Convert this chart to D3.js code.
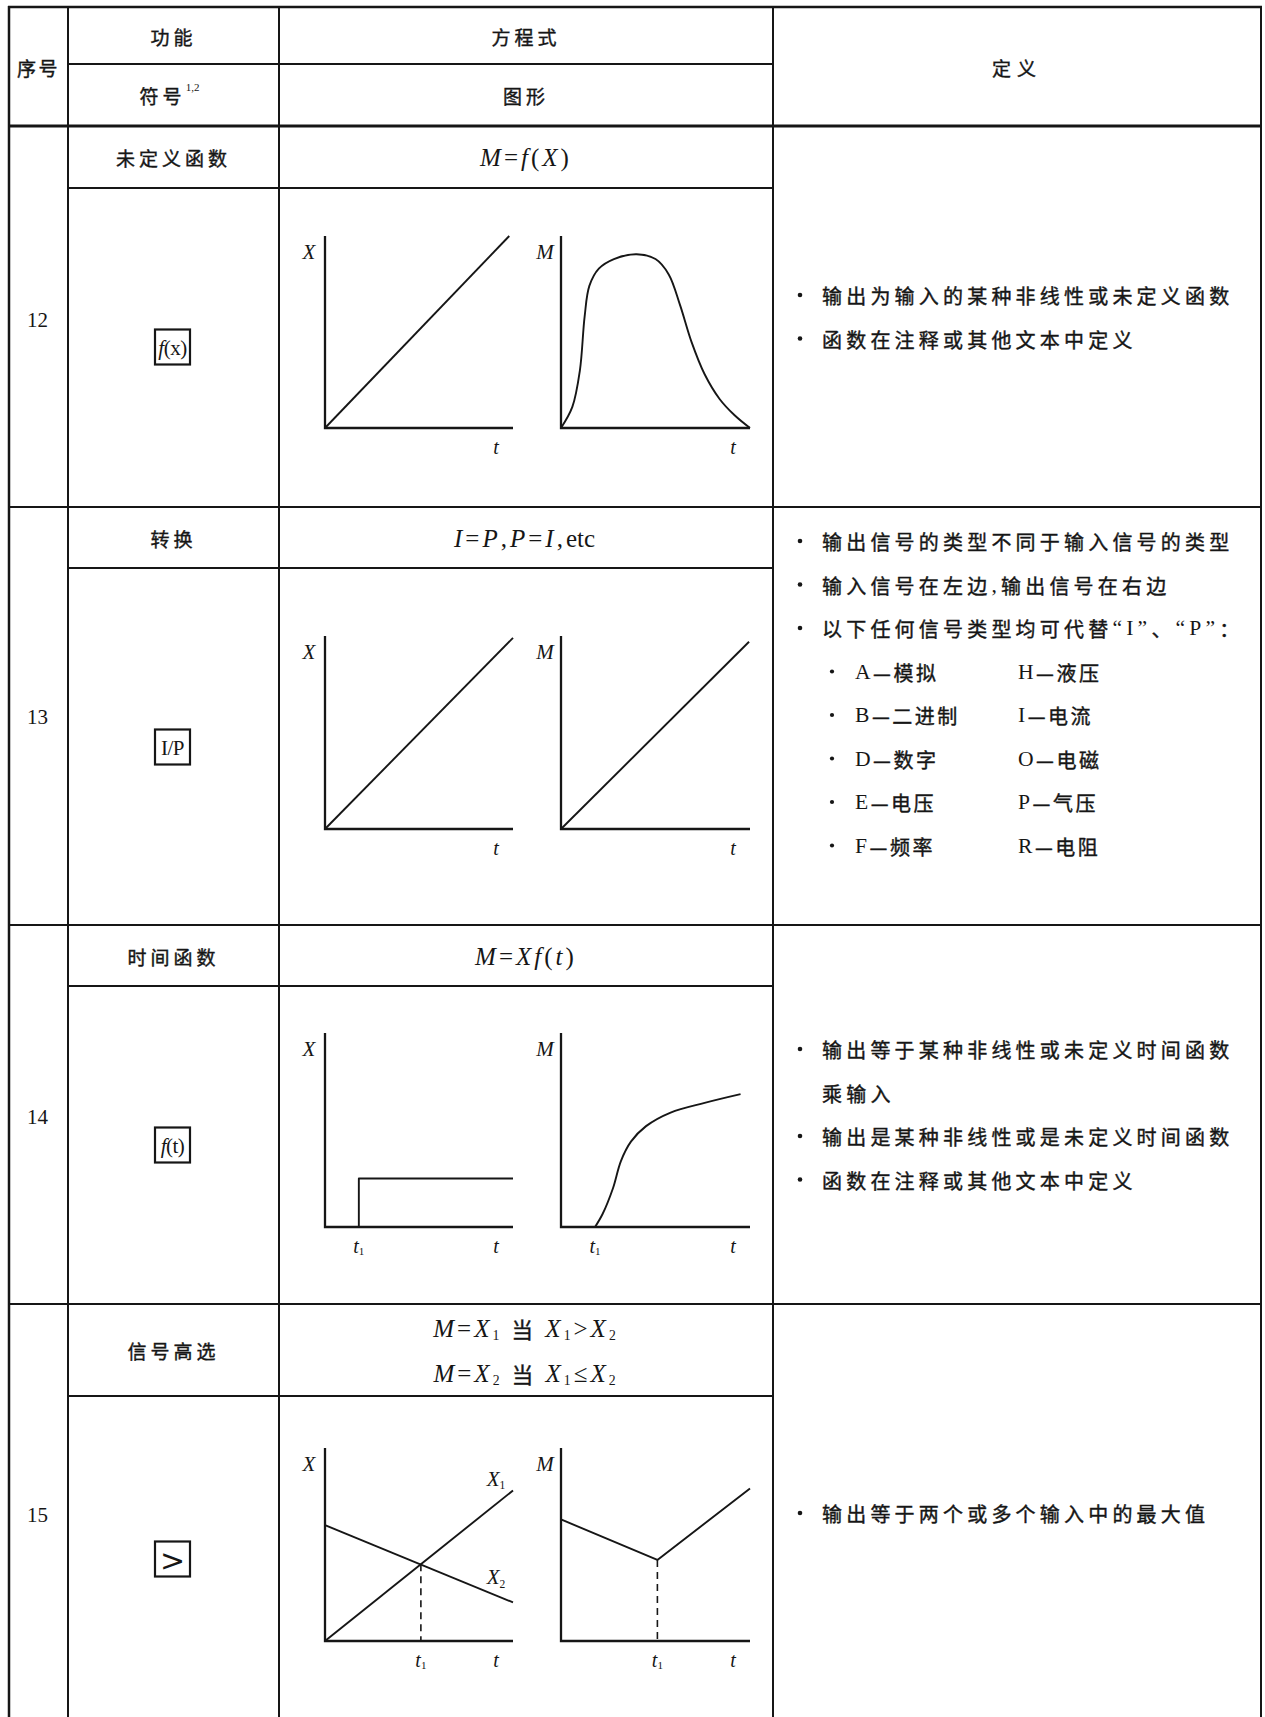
<!DOCTYPE html>
<html>
<head>
<meta charset="utf-8">
<script src="https://cdn.jsdelivr.net/npm/d3@7"></script>
<style>
  body { margin: 0; background: #fff; }
  svg { display: block; }
</style>
</head>
<body>
<script>
// ---- table content ----
var rowIds = ["12", "13", "14", "15"];
var funcNames = ["未定义函数", "转换", "时间函数", "信号高选"];
var symbols = ["*f*(x)", "I/P", "*f*(t)", ">"];
// * toggles italic, _ = subscript of next char
var equations = [
  ["*M*=*f*(*X*)"],
  ["*I*=*P*,*P*=*I*,etc"],
  ["*M*=*Xf*(*t*)"],
  ["*M*=*X*_1 当 *X*_1>*X*_2", "*M*=*X*_2 当 *X*_1≤*X*_2"]
];
var definitions = [
  [["输出为输入的某种非线性或未定义函数"], ["函数在注释或其他文本中定义"]],
  [["输出信号的类型不同于输入信号的类型"], ["输入信号在左边,输出信号在右边"], ["以下任何信号类型均可代替“I”、“P”："]],
  [["输出等于某种非线性或未定义时间函数", "乘输入"], ["输出是某种非线性或是未定义时间函数"], ["函数在注释或其他文本中定义"]],
  [["输出等于两个或多个输入中的最大值"]]
];
var signalTypesLeft = ["A—模拟", "B—二进制", "D—数字", "E—电压", "F—频率"];
var signalTypesRight = ["H—液压", "I—电流", "O—电磁", "P—气压", "R—电阻"];

// ---- curve data, [t, value] in 0..1 ----
var r12Input = [[0, 0], [0.98, 1.0]];
var r12Output = [[0, 0], [0.06, 0.11], [0.10, 0.30], [0.125, 0.58], [0.15, 0.74], [0.20, 0.83],
                 [0.28, 0.88], [0.40, 0.905], [0.50, 0.88], [0.57, 0.80], [0.63, 0.64],
                 [0.69, 0.45], [0.76, 0.28], [0.84, 0.15], [0.92, 0.065], [1.0, 0]];
var r13Input = [[0, 0], [1.0, 0.99]];
var r13Output = [[0, 0], [0.995, 0.97]];
var r14T1 = 0.18;
var r14Input = [[0, 0], [0.18, 0], [0.18, 0.25], [1.0, 0.25]];
var r14Output = [[0.18, 0], [0.22, 0.067], [0.275, 0.20], [0.317, 0.34], [0.37, 0.44],
                 [0.45, 0.52], [0.58, 0.59], [0.76, 0.64], [0.95, 0.685]];
var r15T1 = 0.51;
var r15X1 = [[0, 0], [1.0, 0.78]];
var r15X2 = [[0, 0.60], [1.0, 0.20]];
var r15Output = [[0, 0.63], [0.51, 0.42], [1.0, 0.79]];

// ---- layout ----
var W = 1265, H = 1717;
var colX = [9, 68, 279, 773, 1261];
var headTop = 7, headMid = 64, headBot = 126;
var rowTop = [126, 507, 925, 1304];
var rowMid = [188, 568, 986, 1396];
var rowBot = [507, 925, 1304, H + 5];
var idY = [320, 717, 1117, 1515];
var symCenterY = [347, 747, 1145, 1559];
var chartBase = [428, 829, 1227, 1641];
var chartH = [192, 193, 194, 193];
var defFirstY = [295, 541, 1049, 1513];
var lineStep = 43.5;

var ink = "#161616";
var cjk = "'Noto Sans CJK SC', sans-serif";
var serif = "'Liberation Serif', 'DejaVu Serif', serif";
var cjkStroke = 0.4;

var svg = d3.select("body").append("svg")
    .attr("width", W)
    .attr("height", H);

svg.append("rect").attr("width", W).attr("height", H).attr("fill", "#fff");

//Thicken CJK strokes a little, the scan is heavier than Noto Regular
function cjkStyle(span) {
    span.attr("font-family", cjk)
        .attr("stroke", ink)
        .attr("stroke-width", cjkStroke);
}

//Rich text: * italic toggle, _x subscript
function richText(parent, str, x, y, size, spacing) {
    var t = parent.append("text")
        .attr("x", x).attr("y", y)
        .attr("text-anchor", "middle")
        .attr("dominant-baseline", "central")
        .attr("fill", ink)
        .attr("font-size", size)
        .style("letter-spacing", spacing + "px");
    var italic = false, pendingDy = 0;
    for (var i = 0; i < str.length; i++) {
        var c = str[i];
        if (c === "*") { italic = !italic; continue; }
        var span = t.append("tspan");
        if (c === "_") {
            c = str[++i];
            span.attr("font-size", size * 0.55).attr("dy", size * 0.3);
            pendingDy = -size * 0.3;
            span.attr("font-family", serif).text(c);
            continue;
        }
        if (pendingDy) { span.attr("dy", pendingDy); pendingDy = 0; }
        var isCjk = /[\u3000-\u9fff\uff00-\uffef]/.test(c);
        if (isCjk) {
            cjkStyle(span);
            span.attr("font-size", size * 0.86);
        } else {
            span.attr("font-family", serif)
                .attr("font-style", italic ? "italic" : "normal");
            // plain words like "etc" stay tight
            if (!italic && /[a-z]/.test(c) && /[a-z]/.test(str[i + 1] || "")) span.style("letter-spacing", "0px");
        }
        span.text(c === " " ? "\u00a0" : c);
    }
    return t;
}

//Chinese text, latin letters and quotes set in serif
function cjkText(parent, str, x, y, size, spacing, anchor) {
    var t = parent.append("text")
        .attr("x", x).attr("y", y)
        .attr("text-anchor", anchor || "middle")
        .attr("dominant-baseline", "central")
        .attr("fill", ink)
        .attr("font-size", size)
        .style("letter-spacing", spacing + "px");
    var runs = str.match(/[A-Za-z0-9“”,]+|[^A-Za-z0-9“”,]+/g);
    runs.forEach(function(r) {
        var latin = /^[A-Za-z0-9“”,]/.test(r);
        var span = t.append("tspan").text(r);
        if (latin) {
            span.attr("font-family", serif).attr("font-size", size * 1.08);
        } else {
            cjkStyle(span);
        }
    });
    return t;
}

//Table lines
var grid = svg.append("g").attr("stroke", ink).attr("fill", "none");
function hline(x1, x2, y, w) {
    grid.append("line").attr("x1", x1).attr("x2", x2).attr("y1", y).attr("y2", y).attr("stroke-width", w);
}
function vline(x, y1, y2, w) {
    grid.append("line").attr("x1", x).attr("x2", x).attr("y1", y1).attr("y2", y2).attr("stroke-width", w);
}
hline(colX[0] - 1, colX[4] + 1, headTop, 2.5);
hline(colX[1], colX[3], headMid, 2);
hline(colX[0] - 1, colX[4] + 1, headBot, 3);
rowIds.forEach(function(d, i) {
    hline(colX[1], colX[3], rowMid[i], 2);
    if (i < 3) hline(colX[0] - 1, colX[4] + 1, rowBot[i], 2.2);
});
colX.forEach(function(x, i) {
    vline(x, headTop - 1, H, i === 0 ? 2.5 : 2);
});

//Header
cjkText(svg, "序号", (colX[0] + colX[1]) / 2, (headTop + headBot) / 2, 19, 2.5);
cjkText(svg, "功能", (colX[1] + colX[2]) / 2, (headTop + headMid) / 2, 19, 4);
var fh = cjkText(svg, "符号", (colX[1] + colX[2]) / 2 - 4, (headMid + headBot) / 2, 19, 4);
fh.append("tspan").attr("font-family", serif).attr("font-size", 11).attr("dy", -8)
    .style("letter-spacing", "0px").text("1,2");
cjkText(svg, "方程式", (colX[2] + colX[3]) / 2, (headTop + headMid) / 2, 19, 4);
cjkText(svg, "图形", (colX[2] + colX[3]) / 2, (headMid + headBot) / 2, 19, 4);
cjkText(svg, "定义", (colX[3] + colX[4]) / 2, (headTop + headBot) / 2, 19, 6);

//Rows
rowIds.forEach(function(id, i) {
    svg.append("text")
        .attr("x", (colX[0] + colX[1]) / 2 - 1).attr("y", idY[i])
        .attr("text-anchor", "middle").attr("dominant-baseline", "central")
        .attr("font-family", serif).attr("font-size", 21).attr("fill", ink)
        .text(id);

    cjkText(svg, funcNames[i], (colX[1] + colX[2]) / 2, (rowTop[i] + rowMid[i]) / 2, 19, 4);

    var eq = equations[i];
    var eqMid = (rowTop[i] + rowMid[i]) / 2;
    eq.forEach(function(s, k) {
        var y = eqMid + (k - (eq.length - 1) / 2) * 45;
        richText(svg, s, (colX[2] + colX[3]) / 2, y, 25, 3);
    });
});

//Symbol boxes
symbols.forEach(function(s, i) {
    var cx = 172.5, cy = symCenterY[i];
    svg.append("rect")
        .attr("x", cx - 17.5).attr("y", cy - 17.5)
        .attr("width", 35).attr("height", 35)
        .attr("fill", "none").attr("stroke", ink).attr("stroke-width", 2.2);
    if (s === ">") {
        svg.append("text").attr("x", cx).attr("y", cy + 1)
            .attr("text-anchor", "middle").attr("dominant-baseline", "central")
            .attr("font-family", "'DejaVu Sans', sans-serif").attr("font-size", 30)
            .attr("fill", ink).text(">");
    } else {
        richText(svg, s, cx, cy + 1, 21, -0.5);
    }
});

//Bullets
function bullet(x, y, r) {
    svg.append("circle").attr("cx", x).attr("cy", y).attr("r", r).attr("fill", ink);
}

//Definitions
var bulletX = 800, textX = 822;
definitions.forEach(function(items, i) {
    var y = defFirstY[i];
    items.forEach(function(lines) {
        bullet(bulletX, y, 2.3);
        lines.forEach(function(line) {
            cjkText(svg, line, textX, y, 20, 4.2, "start");
            y += lineStep;
        });
    });
    if (i === 1) {
        signalTypesLeft.forEach(function(s, k) {
            bullet(832, y, 2.1);
            cjkText(svg, s, 855, y, 20, 2.5, "start");
            cjkText(svg, signalTypesRight[k], 1018, y, 20, 2.5, "start");
            y += lineStep;
        });
    }
});

//Mini charts
function chart(i, x0, w, yLabel) {
    var base = chartBase[i], h = chartH[i];
    var x = d3.scaleLinear().domain([0, 1]).range([x0, x0 + w]);
    var y = d3.scaleLinear().domain([0, 1]).range([base, base - h]);
    var g = svg.append("g");
    var line = d3.line().x(function(d) { return x(d[0]); }).y(function(d) { return y(d[1]); });
    g.append("path")
        .attr("d", line([[0, 1], [0, 0], [1, 0]]))
        .attr("fill", "none").attr("stroke", ink).attr("stroke-width", 2.3);
    g.append("text").attr("x", x0 - 16).attr("y", y(1) + 16)
        .attr("text-anchor", "middle").attr("dominant-baseline", "central")
        .attr("font-family", serif).attr("font-style", "italic").attr("font-size", 21)
        .attr("fill", ink).text(yLabel);
    g.append("text").attr("x", x(0.91)).attr("y", base + 19)
        .attr("text-anchor", "middle").attr("dominant-baseline", "central")
        .attr("font-family", serif).attr("font-style", "italic").attr("font-size", 20)
        .attr("fill", ink).text("t");
    return { g: g, x: x, y: y, line: line, base: base };
}
function curve(c, data, curveType) {
    var l = c.line.curve(curveType || d3.curveLinear);
    c.g.append("path").attr("d", l(data))
        .attr("fill", "none").attr("stroke", ink).attr("stroke-width", 1.9)
        .attr("stroke-linejoin", "round");
}
function t1Label(c, t) {
    var tx = c.g.append("text").attr("x", c.x(t)).attr("y", c.base + 19)
        .attr("text-anchor", "middle").attr("dominant-baseline", "central")
        .attr("font-family", serif).attr("font-style", "italic").attr("font-size", 20)
        .attr("fill", ink).text("t");
    tx.append("tspan").attr("font-style", "normal").attr("font-size", 11).attr("dy", 5).text("1");
}
function dashed(c, t, v) {
    c.g.append("path").attr("d", c.line.curve(d3.curveLinear)([[t, v], [t, 0]]))
        .attr("fill", "none").attr("stroke", ink).attr("stroke-width", 1.6)
        .attr("stroke-dasharray", "7,5");
}

var leftX0 = 325, leftW = 188, rightX0 = 561, rightW = 189;

// row 12
var c = chart(0, leftX0, leftW, "X");
curve(c, r12Input);
c = chart(0, rightX0, rightW, "M");
curve(c, r12Output, d3.curveCatmullRom.alpha(0.5));

// row 13
c = chart(1, leftX0, leftW, "X");
curve(c, r13Input);
c = chart(1, rightX0, rightW, "M");
curve(c, r13Output);

// row 14
c = chart(2, leftX0, leftW, "X");
curve(c, r14Input);
t1Label(c, r14T1);
c = chart(2, rightX0, rightW, "M");
curve(c, r14Output, d3.curveCatmullRom.alpha(0.5));
t1Label(c, r14T1);

// row 15
c = chart(3, leftX0, leftW, "X");
curve(c, r15X1);
curve(c, r15X2);
dashed(c, r15T1, r15X1[1][1] * r15T1);
t1Label(c, r15T1);
richText(c.g, "*X*_1", c.x(0.91), c.y(0.84), 21, 0);
richText(c.g, "*X*_2", c.x(0.91), c.y(0.33), 21, 0);
c = chart(3, rightX0, rightW, "M");
curve(c, r15Output);
dashed(c, r15T1, r15Output[1][1]);
t1Label(c, r15T1);
</script>
</body>
</html>
